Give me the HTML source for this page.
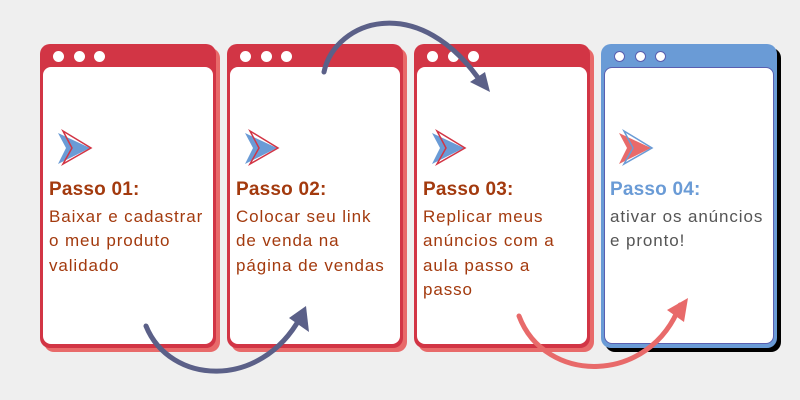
<html><body style="margin:0;width:800px;height:400px;background:#efefef;position:relative;overflow:hidden;font-family:'Liberation Sans',sans-serif">
<style>
.c{position:absolute;top:44px;width:176px;height:304px;border-radius:10px}
.s{position:absolute;top:48px;width:176px;height:304px;border-radius:10px}
.w{position:absolute;left:3px;top:23px;right:3px;bottom:4px;background:#fff;border-radius:8px}
.d{position:absolute;top:7px;width:11px;height:11px;border-radius:50%;background:#fff}
.t{position:absolute;left:6px;top:111px;font-size:17px;line-height:24.5px;color:#a33a0e;width:175px;white-space:nowrap;letter-spacing:0.9px}
.t b{display:block;font-size:19px;margin-bottom:2px;letter-spacing:0.2px}
</style>
<div class="s" style="left:44px;background:#e86a6a"></div>
<div class="s" style="left:231px;background:#e86a6a"></div>
<div class="s" style="left:418px;background:#e86a6a"></div>
<div class="s" style="left:605px;background:#000"></div>
<div class="c" style="left:40px;background:#d23545"><div class="d" style="left:13px"></div><div class="d" style="left:34px"></div><div class="d" style="left:54px"></div><div class="w"><div class="t"><b>Passo 01:</b>Baixar e cadastrar<br>o meu produto<br>validado</div></div></div>
<div class="c" style="left:227px;background:#d23545"><div class="d" style="left:13px"></div><div class="d" style="left:34px"></div><div class="d" style="left:54px"></div><div class="w"><div class="t"><b>Passo 02:</b>Colocar seu link<br>de venda na<br>página de vendas</div></div></div>
<div class="c" style="left:414px;background:#d23545"><div class="d" style="left:13px"></div><div class="d" style="left:34px"></div><div class="d" style="left:54px"></div><div class="w"><div class="t"><b>Passo 03:</b>Replicar meus<br>anúncios com a<br>aula passo a<br>passo</div></div></div>
<div class="c" style="left:601px;background:#6a9bd6"><div class="d" style="left:13px;border:1px solid #5a5fb0;width:9px;height:9px"></div><div class="d" style="left:34px;border:1px solid #5a5fb0;width:9px;height:9px"></div><div class="d" style="left:54px;border:1px solid #5a5fb0;width:9px;height:9px"></div><div class="w" style="border:1px solid #5a5fb0"><div class="t" style="color:#555;left:5px;top:110px"><b style="color:#6a9bd6">Passo 04:</b>ativar os anúncios<br>e pronto!</div></div></div>
<svg width="800" height="400" style="position:absolute;left:0;top:0">
<g id="i1"><polygon points="58,133 90,148 58,164 66,148" fill="#6a9bd6"/><polygon points="63,131 91,148 63,164 72,148" fill="none" stroke="#d23545" stroke-width="1.5"/></g>
<use href="#i1" x="187"/><use href="#i1" x="374"/>
<polygon points="619,133 651,148 619,164 627,148" fill="#e86a6a"/><polygon points="624,131 652,148 624,164 633,148" fill="none" stroke="#6a9bd6" stroke-width="1.5"/>
<g fill="none" stroke-width="5" stroke-linecap="round">
<path d="M146,326 C170,385 260,390 300,318" stroke="#5b6088"/>
<path d="M324,72 C335,20 420,-10 483,85" stroke="#5b6088"/>
<path d="M519,316 C545,385 650,385 680,305" stroke="#e86a6a"/>
</g>
<polygon points="289,318 306,306 309,332" fill="#5b6088"/>
<polygon points="470,82 490,92 485,72" fill="#5b6088"/>
<polygon points="667,310 688,298 684,322" fill="#e86a6a"/>
</svg>
</body></html>
